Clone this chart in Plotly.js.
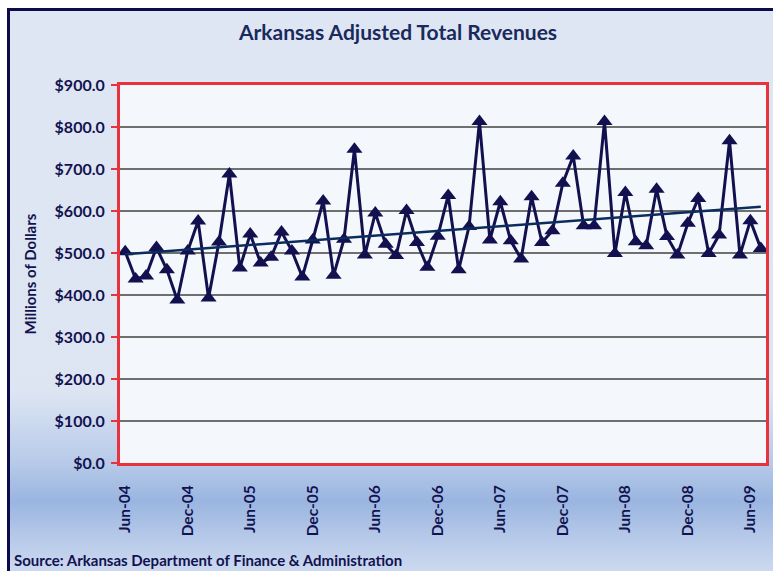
<!DOCTYPE html>
<html>
<head>
<meta charset="utf-8">
<script src="https://cdn.plot.ly/plotly-3.0.1.min.js"></script>
<style>
  html, body { margin: 0; padding: 0; width: 773px; height: 571px; overflow: hidden; }
  #bg { position: absolute; left: 0; top: 0; width: 773px; height: 571px; background: #ffffff; }
  #panel { position: absolute; left: 7px; top: 8px; width: 780px; height: 580px; box-sizing: border-box;
    border-left: 3px solid #0d0b4c; border-top: 3px solid #0d0b4c;
    background: linear-gradient(to bottom, #dfe6f3 0px, #dde5f3 380px, #b5c9e8 455px, #9ab5e0 490px, #b9cbea 530px, #d3def1 572px); }
  #chart { position: absolute; left: 0; top: 0; width: 773px; height: 571px; }
</style>
</head>
<body>
<div id="bg"></div>
<div id="panel"></div>
<div id="chart"></div>
<script>
// Monthly values, Jun-04 through Jul-09 (millions of dollars)
const months = [
  "Jun-04","Jul-04","Aug-04","Sep-04","Oct-04","Nov-04","Dec-04","Jan-05","Feb-05","Mar-05","Apr-05","May-05",
  "Jun-05","Jul-05","Aug-05","Sep-05","Oct-05","Nov-05","Dec-05","Jan-06","Feb-06","Mar-06","Apr-06","May-06",
  "Jun-06","Jul-06","Aug-06","Sep-06","Oct-06","Nov-06","Dec-06","Jan-07","Feb-07","Mar-07","Apr-07","May-07",
  "Jun-07","Jul-07","Aug-07","Sep-07","Oct-07","Nov-07","Dec-07","Jan-08","Feb-08","Mar-08","Apr-08","May-08",
  "Jun-08","Jul-08","Aug-08","Sep-08","Oct-08","Nov-08","Dec-08","Jan-09","Feb-09","Mar-09","Apr-09","May-09",
  "Jun-09","Jul-09"
];
const revenues = [
  503, 438, 445, 513, 460, 388, 505, 576, 393, 526, 688, 464,
  545, 476, 490, 550, 505, 443, 531, 624, 447, 533, 747, 495,
  595, 521, 494, 601, 525, 466, 540, 637, 460, 563, 813, 531,
  622, 529, 486, 634, 525, 553, 666, 731, 565, 565, 813, 499,
  644, 527, 517, 652, 539, 495, 571, 630, 499, 543, 767, 495,
  577, 511
];
// Linear trend line, read at the first and last month
const trendMonths = ["Jun-04", "Jul-09"];
const trendValues = [497, 610];
// Axis labels
const xTickLabels = ["Jun-04","Dec-04","Jun-05","Dec-05","Jun-06","Dec-06","Jun-07","Dec-07","Jun-08","Dec-08","Jun-09"];
const yTickValues = [0, 100, 200, 300, 400, 500, 600, 700, 800, 900];
const yTickLabels = yTickValues.map(v => "$" + v.toFixed(1));

const xIndex = months.map((m, i) => i);
const trendX = trendMonths.map(m => months.indexOf(m));
const xTickVals = xTickLabels.map(m => months.indexOf(m));

const navy = "#12124f";
const fontFam = "Lato, 'Open Sans', sans-serif";

const traces = [
  {
    x: xIndex, y: revenues, type: "scatter", mode: "lines+markers",
    line: { color: "#12104e", width: 3 },
    marker: { symbol: "triangle-up", size: 14, color: "#12104e" },
    hoverinfo: "skip", showlegend: false
  },
  {
    x: trendX, y: trendValues, type: "scatter", mode: "lines",
    line: { color: "#0b2d5e", width: 2.5 },
    hoverinfo: "skip", showlegend: false
  }
];

const layout = {
  width: 773, height: 571,
  margin: { l: 120, r: 7, t: 85, b: 108, pad: 0 },
  paper_bgcolor: "rgba(0,0,0,0)",
  plot_bgcolor: "#f4f8fc",
  font: { family: fontFam, color: navy },
  title: {
    text: "<b>Arkansas Adjusted Total Revenues</b>",
    font: { family: fontFam, size: 21, color: "#1a2a5c" },
    xref: "container", yref: "container",
    x: 398 / 773, xanchor: "center",
    y: 1 - 33 / 571, yanchor: "middle"
  },
  xaxis: {
    range: [-0.5, months.length - 0.5],
    tickmode: "array", tickvals: xTickVals,
    ticktext: xTickLabels.map(t => "<b>" + t + "</b>"),
    tickangle: -90,
    tickfont: { family: fontFam, size: 15.5, color: navy },
    showgrid: false, zeroline: false,
    showline: true, linecolor: "#e8323e", linewidth: 3, mirror: true,
    ticks: "", ticklabelstandoff: 13
  },
  yaxis: {
    range: [0, 900],
    tickmode: "array", tickvals: yTickValues,
    ticktext: yTickLabels.map(t => "<b>" + t + "</b>"),
    tickfont: { family: fontFam, size: 16, color: navy },
    showgrid: true, gridcolor: "#6f6f6f", gridwidth: 1.5,
    zeroline: false,
    showline: true, linecolor: "#e8323e", linewidth: 3, mirror: true,
    ticks: "outside", ticklen: 6, tickcolor: "#e8323e", tickwidth: 2,
    ticklabelstandoff: 3,
    title: {
      text: "<b>Millions of Dollars</b>",
      font: { family: fontFam, size: 15, color: navy },
      standoff: 15
    }
  },
  annotations: [
    {
      text: "<b>Source: Arkansas Department of Finance & Administration</b>",
      xref: "paper", yref: "paper",
      x: -108 / 646, xanchor: "left",
      y: -(560 - 463) / 378, yanchor: "middle",
      showarrow: false,
      font: { family: fontFam, size: 15, color: navy }
    }
  ]
};

Plotly.newPlot("chart", traces, layout, { displayModeBar: false, staticPlot: true });
</script>
</body>
</html>
